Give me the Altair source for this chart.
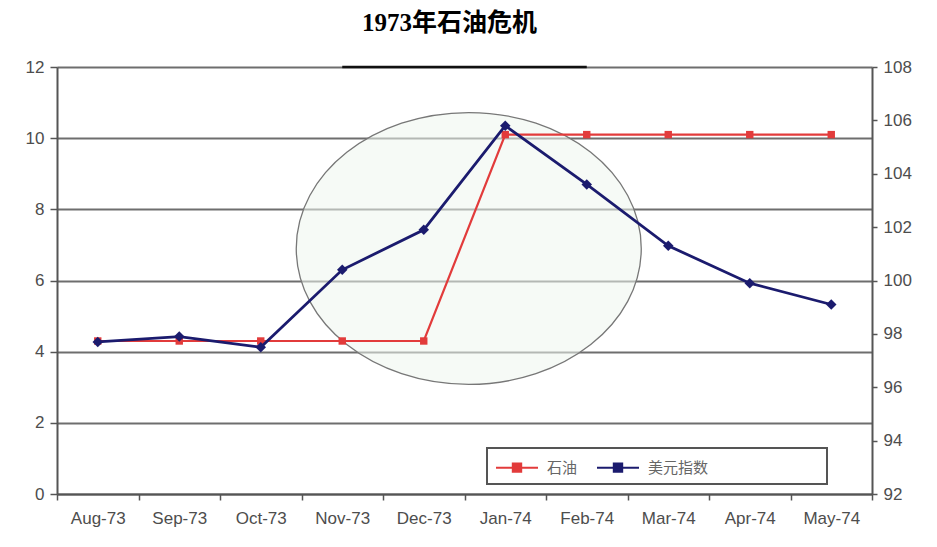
import altair as alt
import pandas as pd

# ---- data ----
months = ["Aug-73", "Sep-73", "Oct-73", "Nov-73", "Dec-73",
          "Jan-74", "Feb-74", "Mar-74", "Apr-74", "May-74"]
oil = [4.3, 4.3, 4.3, 4.3, 4.3, 10.1, 10.1, 10.1, 10.1, 10.1]
usd = [97.7, 97.9, 97.5, 100.4, 101.9, 105.8, 103.6, 101.3, 99.9, 99.1]
series_names = ["石油", "美元指数"]
left_ticks = [0, 2, 4, 6, 8, 10, 12]
right_ticks = [92, 94, 96, 98, 100, 102, 104, 106, 108]

# annotation: ellipse drawn around the crisis months, and the dark top segment
ellipse_month = ["Dec-73"]
ellipse_value = [6.9]
top_seg_start = ["Nov-73"]
top_seg_end = ["Feb-74"]
top_seg_value = [12]

RED = "#e23b3b"
BLUE = "#1b1b6e"
AXIS = "#555555"
LABEL = "#4d4d4d"

oil_df = pd.DataFrame({"month": months, "value": oil, "series": series_names[0]})
usd_df = pd.DataFrame({"month": months, "value": usd, "series": series_names[1]})
ell_df = pd.DataFrame({"month": ellipse_month, "value": ellipse_value})
seg_df = pd.DataFrame({"start": top_seg_start, "end": top_seg_end, "value": top_seg_value})

x_scale = alt.Scale(type="band", domain=months, paddingInner=0, paddingOuter=0)
x_axis = alt.Axis(title=None, labelAngle=0, tickBand="extent", grid=False,
                  labelFont="Liberation Sans", labelFontSize=17, labelColor=LABEL,
                  labelPadding=10, tickSize=6, tickColor=AXIS, tickWidth=1.5,
                  domainColor=AXIS, domainWidth=2)
x_enc = alt.X("month:N", sort=months, scale=x_scale, axis=x_axis)

left_axis = alt.Axis(title=None, values=left_ticks, grid=True, gridColor="#6e6e6e",
                     gridWidth=1.8, gridOpacity=1, orient="left",
                     labelFont="Liberation Sans", labelFontSize=17, labelColor=LABEL,
                     labelPadding=6, tickSize=7, tickColor=AXIS, tickWidth=1.5,
                     domainColor=AXIS, domainWidth=2)
y_left = alt.Y("value:Q", scale=alt.Scale(domain=[0, 12], nice=False, zero=False),
               axis=left_axis)

right_axis = alt.Axis(title=None, values=right_ticks, grid=False, orient="right",
                      labelFont="Liberation Sans", labelFontSize=17, labelColor=LABEL,
                      labelPadding=6, tickSize=5, tickColor=AXIS, tickWidth=1.5,
                      domainColor=AXIS, domainWidth=2)
y_right = alt.Y("value:Q", scale=alt.Scale(domain=[92, 108], nice=False, zero=False),
                axis=right_axis)

legend_symbol = "M-1,0L3,0M0.6,-0.4L1.4,-0.4L1.4,0.4L0.6,0.4Z"
pad = "\u2800" * 10
color_enc = alt.Color(
    "series:N",
    scale=alt.Scale(domain=series_names, range=[RED, BLUE]),
    legend=alt.Legend(
        title=None, orient="none", legendX=430, legendY=381, direction="horizontal",
        strokeColor=AXIS, fillColor="white", padding=8,
        symbolType=legend_symbol, symbolSize=441, symbolStrokeWidth=2,
        labelFont="Noto Sans CJK SC", labelFontSize=15, labelColor="#666666",
        labelOffset=29, columnPadding=15, labelLimit=400,
        labelExpr="(datum.index == 1 || datum.value == '美元指数') ? datum.label + '" + pad + "' : datum.label",
    ),
)

ellipse_path = ("M-0.7391,0C-0.7391,-0.4352,-0.2914,-0.788,0.2609,-0.788"
                "C0.8132,-0.788,1.2609,-0.4352,1.2609,0"
                "C1.2609,0.4352,0.8132,0.788,0.2609,0.788"
                "C-0.2914,0.788,-0.7391,0.4352,-0.7391,0Z")

ellipse = alt.Chart(ell_df).mark_point(
    shape=ellipse_path, size=345 ** 2, filled=True, fill="#eef5ee", fillOpacity=0.55,
    stroke="#777777", strokeWidth=1.3, strokeOpacity=1, opacity=1
).encode(x=x_enc, y=y_left)

top_seg = alt.Chart(seg_df).mark_rule(color="#111111", strokeWidth=2.5).encode(
    x=alt.X("start:N", sort=months, scale=x_scale, axis=x_axis),
    x2="end:N",
    y=y_left,
)

oil_line = alt.Chart(oil_df).mark_line(
    strokeWidth=2.2,
    point=alt.OverlayMarkDef(shape="square", filled=True, size=55, color=RED),
).encode(x=x_enc, y=y_left, color=color_enc)

usd_line = alt.Chart(usd_df).mark_line(
    strokeWidth=2.8,
    point=alt.OverlayMarkDef(shape="diamond", filled=True, size=110, color=BLUE),
).encode(x=x_enc, y=y_right, color=color_enc)

left_group = alt.layer(ellipse, top_seg, oil_line)

chart = alt.layer(left_group, usd_line).resolve_scale(y="independent").properties(
    width=815, height=427,
    autosize=alt.AutoSizeParams(type="none"),
    padding={"left": 49, "top": 59, "right": 57, "bottom": 45},
    title=alt.TitleParams(
        "1973年石油危机", font="Liberation Serif, Noto Sans CJK SC", fontSize=25,
        fontWeight="bold", color="black", anchor="middle", dx=-15, offset=22,
    ),
).configure_view(stroke=None).configure(background="white").configure_legend(strokeWidth=2)

chart.save("out.html", embed_options={"renderer": "svg", "actions": False})
